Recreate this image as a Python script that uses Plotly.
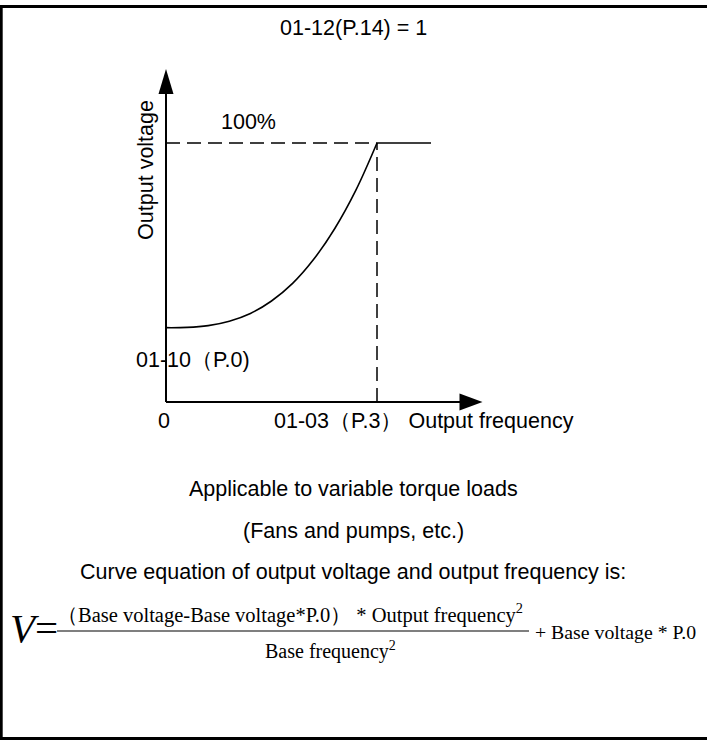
import plotly.graph_objects as go

# V/f square-law curve (normalised: base frequency = 1, 100% voltage = 1)
freq = [0.0, 0.1, 0.2, 0.3, 0.4, 0.5, 0.6, 0.7, 0.8, 0.9, 1.0]
volt = [0.287, 0.288, 0.295, 0.312, 0.342, 0.390, 0.458, 0.551, 0.670, 0.818, 1.0]
flat_freq = [1.0, 1.256]
flat_volt = [1.0, 1.0]

base_freq = 1.0
full_volt = 1.0
x_arrow_end = 1.5
y_arrow_end = 1.286

W, H = 707, 740
SANS = "Liberation Sans, Arial, sans-serif"
SERIF = "Liberation Serif, Times New Roman, serif"
FS = 21.5

# axis ranges so that f=0 sits at x=166px, f=1 at 377px; V=0 at y=402px, V=1 at y=143px
sx, sy = 211.0, 259.0
x0px, y0px = 166.0, 402.0
xr = [-x0px / sx, (W - x0px) / sx]
yr = [-(H - y0px) / sy, y0px / sy]


def px(x):
    return x / W


def py(y):
    return 1 - y / H


fig = go.Figure()
fig.add_trace(go.Scatter(x=freq, y=volt, mode="lines", line=dict(color="black", width=1.6, shape="spline"),
                         hoverinfo="skip", showlegend=False))
fig.add_trace(go.Scatter(x=flat_freq, y=flat_volt, mode="lines", line=dict(color="black", width=1.6),
                         hoverinfo="skip", showlegend=False))

shapes = []
# axes
shapes.append(dict(type="line", xref="x", yref="y", x0=0, y0=0, x1=x_arrow_end - 0.1, y1=0,
                   line=dict(color="black", width=2)))
shapes.append(dict(type="line", xref="x", yref="y", x0=0, y0=0, x1=0, y1=y_arrow_end - 0.09,
                   line=dict(color="black", width=2)))
# arrow heads
ah_len_x, ah_half_y = 23 / sx, 8.5 / sy
shapes.append(dict(type="path", xref="x", yref="y",
                   path=f"M {x_arrow_end - ah_len_x} {ah_half_y} L {x_arrow_end} 0 L {x_arrow_end - ah_len_x} {-ah_half_y} Z",
                   fillcolor="black", line=dict(color="black", width=0)))
ah_len_y, ah_half_x = 25 / sy, 7.5 / sx
shapes.append(dict(type="path", xref="x", yref="y",
                   path=f"M {-ah_half_x} {y_arrow_end - ah_len_y} L 0 {y_arrow_end} L {ah_half_x} {y_arrow_end - ah_len_y} Z",
                   fillcolor="black", line=dict(color="black", width=0)))
# dashed guides
shapes.append(dict(type="line", xref="x", yref="y", x0=0, y0=full_volt, x1=base_freq, y1=full_volt,
                   line=dict(color="black", width=1.5, dash="14px,7px")))
shapes.append(dict(type="line", xref="x", yref="y", x0=base_freq, y0=0, x1=base_freq, y1=full_volt,
                   line=dict(color="black", width=1.5, dash="14px,7px")))
# fraction bar
shapes.append(dict(type="line", xref="paper", yref="paper", x0=px(57), y0=py(631), x1=px(529), y1=py(631),
                   line=dict(color="black", width=1.2)))
# frame
shapes.append(dict(type="line", xref="paper", yref="paper", x0=px(1.2), y0=py(5), x1=px(1.2), y1=py(740),
                   line=dict(color="black", width=3)))
shapes.append(dict(type="line", xref="paper", yref="paper", x0=px(0), y0=py(6.5), x1=px(707), y1=py(6.5),
                   line=dict(color="black", width=3)))
shapes.append(dict(type="line", xref="paper", yref="paper", x0=px(0), y0=py(738.5), x1=px(707), y1=py(738.5),
                   line=dict(color="black", width=3)))

ann = []


def text(x, y, s, size=FS, family=SANS, xanchor="center", data=False, **kw):
    ann.append(dict(x=x, y=y, xref="x" if data else "paper", yref="y" if data else "paper", text=s,
                    showarrow=False, xanchor=xanchor, yanchor="middle",
                    font=dict(family=family, size=size, color="black"), **kw))


text(px(353), py(28), "01-12(P.14) = 1")
text(0.389, 1.081, "100%", data=True)
text(-0.095, 0.896, "Output voltage", data=True, textangle=-90)
text(0.128, 0.162, "01-10（P.0)", data=True)
text(-0.008, -0.074, "0", data=True)
text(0.502, -0.074, "01-03（P.3） Output frequency", data=True, xanchor="left")

text(px(353), py(489), "Applicable to variable torque loads")
text(px(353), py(531), "(Fans and pumps, etc.)")
text(px(353), py(572), "Curve equation of output voltage and output frequency is:")

text(px(8), py(628), "<i>V</i>=", size=41, family=SERIF, xanchor="left")
text(px(525), py(613), "（Base voltage-Base voltage*P.0） * Output frequency<sup>2</sup>", size=20.5, family=SERIF,
     xanchor="right")
text(px(330), py(650), "Base frequency<sup>2</sup>", size=20, family=SERIF)
text(px(533), py(632), "+ Base voltage * P.0", size=19.8, family=SERIF, xanchor="left")

fig.update_layout(
    width=W, height=H, margin=dict(l=0, r=0, t=0, b=0),
    paper_bgcolor="white", plot_bgcolor="white",
    xaxis=dict(range=xr, visible=False, fixedrange=True),
    yaxis=dict(range=yr, visible=False, fixedrange=True),
    shapes=shapes, annotations=ann, showlegend=False,
)
fig.write_html("out.html")
